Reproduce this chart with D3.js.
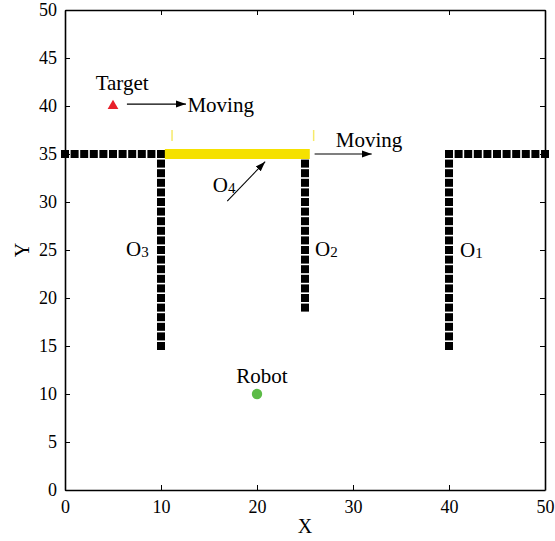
<!DOCTYPE html>
<meta charset="utf-8">
<script src="https://d3js.org/d3.v7.min.js"></script>
<style>
  body { margin: 0; background: #fff; }
  text { font-family: "Liberation Serif", "Times New Roman", serif; }
</style>
<div id="chart"></div>
<script>
// obstacle blocks (grid cells, data units)
var wallLeftX  = [0, 1, 2, 3, 4, 5, 6, 7, 8, 9, 10];
var wallRightX = [40, 41, 42, 43, 44, 45, 46, 47, 48, 49, 50];
var wallY = 35;
var o3Y = [15, 16, 17, 18, 19, 20, 21, 22, 23, 24, 25, 26, 27, 28, 29, 30, 31, 32, 33, 34, 35];
var o2Y = [19, 20, 21, 22, 23, 24, 25, 26, 27, 28, 29, 30, 31, 32, 33, 34, 35];
var o1Y = [15, 16, 17, 18, 19, 20, 21, 22, 23, 24, 25, 26, 27, 28, 29, 30, 31, 32, 33, 34, 35];
var o3X = 10, o2X = 25, o1X = 40;

// moving obstacle O4 (yellow door)
var o4Span = [10.4, 25.5];
var o4Marks = [11.15, 25.9];
var o4MarkY = [36.35, 37.5];

var target = [5, 40];
var robot = [20, 10];

// annotation arrows [x1, y1, x2, y2]
var arrows = [
  [6.45, 40.2, 12.6, 40.2],
  [26.0, 35, 31.95, 35],
  [16.9, 30.1, 20.85, 34.2]
];

var ticks = [0, 10, 20, 30, 40, 50];
var yTicks = [0, 5, 10, 15, 20, 25, 30, 35, 40, 45, 50];

var W = 555, H = 541;
var svg = d3.select("#chart").append("svg").attr("width", W).attr("height", H);

var x = d3.scaleLinear().domain([0, 50]).range([65, 545]);
var y = d3.scaleLinear().domain([0, 50]).range([490, 10]);

// axes box with inward ticks
var tick = 5;
svg.append("g").attr("transform", "translate(0,490)")
  .call(d3.axisBottom(x).tickValues(ticks).tickSizeInner(-tick).tickSizeOuter(0).tickPadding(10));
svg.append("g").attr("transform", "translate(0,10)")
  .call(d3.axisTop(x).tickValues(ticks).tickSizeInner(-tick).tickSizeOuter(0).tickFormat(""));
svg.append("g").attr("transform", "translate(65,0)")
  .call(d3.axisLeft(y).tickValues(yTicks).tickSizeInner(-tick).tickSizeOuter(0).tickPadding(8));
svg.append("g").attr("transform", "translate(545,0)")
  .call(d3.axisRight(y).tickValues(yTicks).tickSizeInner(-tick).tickSizeOuter(0).tickFormat(""));
svg.selectAll(".domain").attr("stroke", "#000").attr("stroke-width", 1.6);
svg.selectAll(".tick line").attr("stroke", "#000").attr("stroke-width", 1);
svg.selectAll(".tick text").attr("font-family", "Liberation Serif").attr("font-size", 18).attr("fill", "#000");

// blocks
var blocks = [];
wallLeftX.forEach(function(v) { blocks.push([v, wallY]); });
wallRightX.forEach(function(v) { blocks.push([v, wallY]); });
o3Y.forEach(function(v) { blocks.push([o3X, v]); });
o2Y.forEach(function(v) { blocks.push([o2X, v]); });
o1Y.forEach(function(v) { blocks.push([o1X, v]); });

var s = 8;
svg.append("g").selectAll("rect").data(blocks).enter().append("rect")
  .attr("x", function(d) { return x(d[0]) - s / 2; })
  .attr("y", function(d) { return y(d[1]) - s / 2; })
  .attr("width", s).attr("height", s)
  .attr("fill", "#000");

// O4 yellow bar
svg.append("line")
  .attr("x1", x(o4Span[0])).attr("x2", x(o4Span[1]))
  .attr("y1", y(wallY)).attr("y2", y(wallY))
  .attr("stroke", "#f5e100").attr("stroke-width", 10);
svg.append("g").selectAll("line").data(o4Marks).enter().append("line")
  .attr("x1", function(d) { return x(d); }).attr("x2", function(d) { return x(d); })
  .attr("y1", y(o4MarkY[0])).attr("y2", y(o4MarkY[1]))
  .attr("stroke", "#f6ea6a").attr("stroke-width", 1.5);

// arrows
svg.append("defs").append("marker")
  .attr("id", "head").attr("viewBox", "0 0 10 10")
  .attr("refX", 10).attr("refY", 5)
  .attr("markerWidth", 10).attr("markerHeight", 10)
  .attr("markerUnits", "userSpaceOnUse")
  .attr("orient", "auto")
  .append("path").attr("d", "M0,1.5L10,5L0,8.5Z").attr("fill", "#000");
svg.append("g").selectAll("line").data(arrows).enter().append("line")
  .attr("x1", function(d) { return x(d[0]); }).attr("y1", function(d) { return y(d[1]); })
  .attr("x2", function(d) { return x(d[2]); }).attr("y2", function(d) { return y(d[3]); })
  .attr("stroke", "#000").attr("stroke-width", 1.1)
  .attr("marker-end", "url(#head)");

// target and robot
svg.append("path")
  .attr("d", d3.symbol().type(d3.symbolTriangle).size(50))
  .attr("transform", "translate(" + x(target[0]) + "," + y(target[1]) + ")")
  .attr("fill", "#e8202a");
svg.append("circle")
  .attr("cx", x(robot[0])).attr("cy", y(robot[1])).attr("r", 5.2)
  .attr("fill", "#5cbb47");

// text labels
function label(txt, px, py, anchor) {
  return svg.append("text").attr("x", x(px)).attr("y", y(py))
    .attr("text-anchor", anchor || "start")
    .attr("font-size", 21).attr("fill", "#000").text(txt);
}
label("Target", 5.95, 41.65, "middle");
label("Moving", 12.75, 39.4);
label("Moving", 28.2, 35.7);
label("Robot", 20.5, 11.15, "middle");

function sub(name, idx, px, py) {
  var t = svg.append("text").attr("x", x(px)).attr("y", y(py))
    .attr("font-size", 21).attr("fill", "#000");
  t.append("tspan").text(name);
  t.append("tspan").attr("font-size", 15).attr("dy", 1).text(idx);
}
sub("O", "3", 6.35, 24.4);
sub("O", "2", 26.05, 24.4);
sub("O", "1", 41.15, 24.3);
sub("O", "4", 15.4, 31.0);

// axis titles
svg.append("text").attr("x", x(25)).attr("y", 533)
  .attr("text-anchor", "middle").attr("font-size", 20).text("X");
svg.append("text").attr("transform", "translate(29," + y(25) + ") rotate(-90)")
  .attr("text-anchor", "middle").attr("font-size", 20).text("Y");
</script>
